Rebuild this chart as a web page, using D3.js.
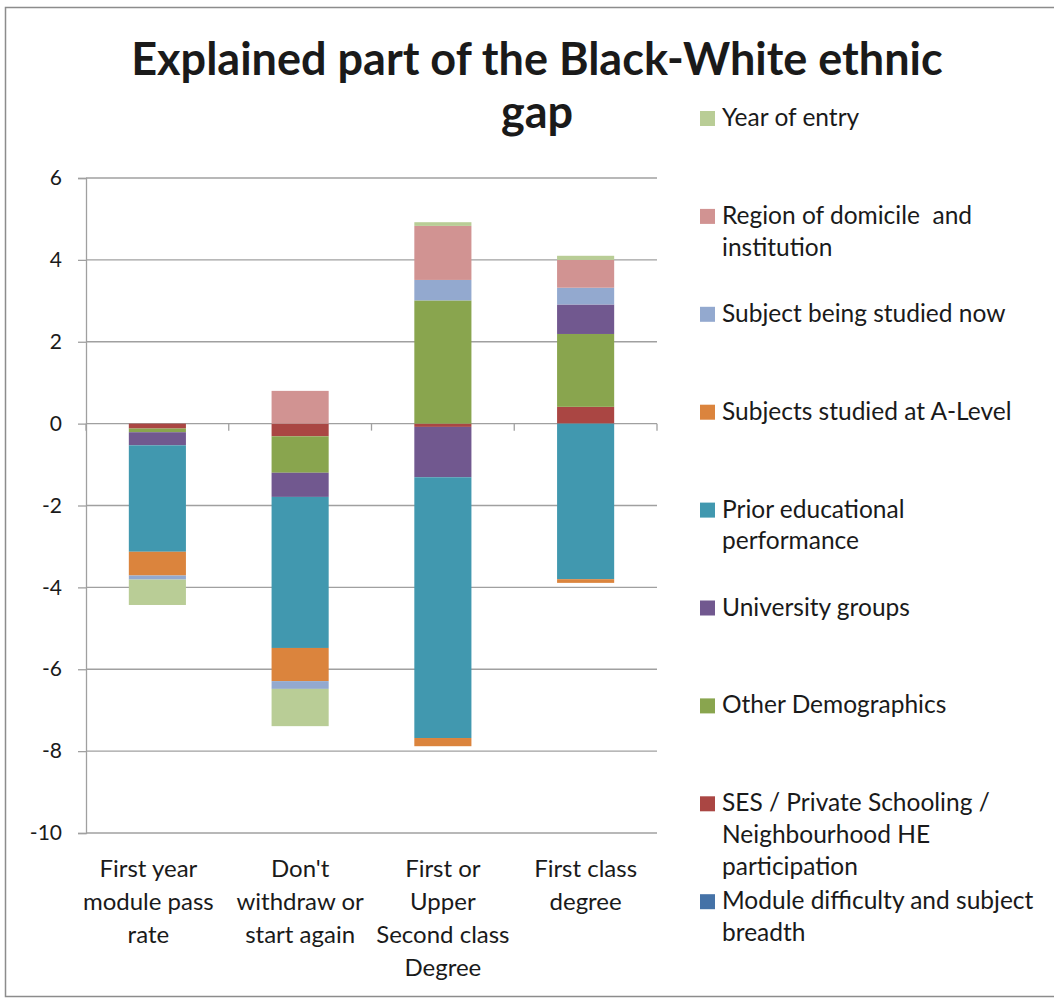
<!DOCTYPE html>
<html>
<head>
<meta charset="utf-8">
<script src="https://cdn.jsdelivr.net/npm/d3@7"></script>
<style>
  body { margin: 0; background: #fff; }
  text { font-family: Lato, "Open Sans", sans-serif; fill: #1a1a1a; white-space: pre; }
</style>
</head>
<body>
<script>
// categories (one entry per line of the wrapped label)
const categories = [
    ["First year", "module pass", "rate"],
    ["Don't", "withdraw or", "start again"],
    ["First or", "Upper", "Second class", "Degree"],
    ["First class", "degree"]
];

// series, in stacking order (first = nearest the zero line)
const seriesKeys = ["module", "ses", "other", "univ", "prior", "alevel", "subjNow", "region", "year"];
const seriesLabels = [
    ["Module difficulty and subject", "breadth"],
    ["SES / Private Schooling /", "Neighbourhood HE", "participation"],
    ["Other Demographics"],
    ["University groups"],
    ["Prior educational", "performance"],
    ["Subjects studied at A-Level"],
    ["Subject being studied now"],
    ["Region of domicile  and", "institution"],
    ["Year of entry"]
];
const seriesColors = ["#4572A7", "#AA4643", "#89A54E", "#71588F", "#4198AF", "#DB843D", "#93A9CF", "#D19392", "#B9CD96"];

const moduleVals  = [0, 0, 0, 0];
const sesVals     = [-0.12, -0.31, -0.08, 0.41];
const otherVals   = [-0.09, -0.89, 3.01, 1.78];
const univVals    = [-0.32, -0.59, -1.23, 0.72];
const priorVals   = [-2.60, -3.69, -6.37, -3.80];
const alevelVals  = [-0.58, -0.81, -0.20, -0.09];
const subjNowVals = [-0.10, -0.19, 0.50, 0.41];
const regionVals  = [0, 0.80, 1.32, 0.68];
const yearVals    = [-0.62, -0.91, 0.09, 0.10];

const yTicks = [6, 4, 2, 0, -2, -4, -6, -8, -10];
const titleLines = ["Explained part of the Black-White ethnic", "gap"];

class StackChart {
    constructor(width = 1054, height = 998){
        this.width = width;
        this.height = height;
        this.plot = {left: 86, right: 657, top: 178, bottom: 833};

        this.rows = categories.map((c, i) => ({
            cat: i,
            module: moduleVals[i], ses: sesVals[i], other: otherVals[i], univ: univVals[i],
            prior: priorVals[i], alevel: alevelVals[i], subjNow: subjNowVals[i],
            region: regionVals[i], year: yearVals[i]
        }));

        this.createSvg();
        this.buildScales();
        this.drawFrame();
        this.drawAxes();
        this.drawBars();
        this.drawTitle();
        this.drawLegend();
    }

    createSvg(){
        this.svg = d3.select("body")
            .append("svg")
            .attr("width", this.width)
            .attr("height", this.height);
    }

    buildScales(){
        this.x = d3.scaleBand()
            .domain(categories.map((c, i) => i))
            .range([this.plot.left, this.plot.right])
            .paddingInner(0.6)
            .paddingOuter(0.3);

        this.y = d3.scaleLinear()
            .domain([-10, 6])
            .range([this.plot.bottom, this.plot.top]);
    }

    drawFrame(){
        this.svg.append("rect")
            .attr("x", 5.5).attr("y", 7.5)
            .attr("width", this.width + 10).attr("height", 989)
            .attr("fill", "none")
            .attr("stroke", "#8c8c8c")
            .attr("stroke-width", 1.5);
    }

    drawAxes(){
        const p = this.plot;

        // horizontal gridlines
        this.svg.append("g")
            .selectAll("line")
            .data(yTicks)
            .enter().append("line")
            .attr("x1", p.left).attr("x2", p.right)
            .attr("y1", d => this.y(d)).attr("y2", d => this.y(d))
            .attr("stroke", "#a0a0a0")
            .attr("stroke-width", 1.3);

        let yAxis = this.svg.append("g")
            .attr("transform", `translate(${p.left},0)`)
            .call(d3.axisLeft(this.y).tickValues(yTicks).tickFormat(d => String(d)).tickSize(8).tickPadding(16));
        yAxis.select(".domain").attr("stroke", "#a0a0a0").attr("stroke-width", 1.3);
        yAxis.selectAll(".tick line").attr("stroke", "#a0a0a0").attr("stroke-width", 1.3);
        yAxis.selectAll(".tick text")
            .attr("font-size", 21)
            .attr("font-family", "Lato, sans-serif")
            .attr("fill", "#1a1a1a");

        // category tick marks on the zero line
        const step = this.x.step();
        const bounds = d3.range(categories.length + 1).map(k => p.left + k * step);
        this.svg.append("g")
            .selectAll("line")
            .data(bounds)
            .enter().append("line")
            .attr("x1", d => d).attr("x2", d => d)
            .attr("y1", this.y(0)).attr("y2", this.y(0) + 7)
            .attr("stroke", "#a0a0a0")
            .attr("stroke-width", 1.3);

        // category labels at the bottom
        let labels = this.svg.append("g")
            .selectAll("text")
            .data(categories)
            .enter().append("text")
            .attr("text-anchor", "middle")
            .attr("font-size", 24);
        labels.selectAll("tspan")
            .data((d, i) => d.map(line => ({line, i})))
            .enter().append("tspan")
            .attr("x", d => this.x(d.i) + this.x.bandwidth() / 2 - (d.i === 0 ? 9 : 0))
            .attr("y", (d, j) => 877 + j * 33)
            .text(d => d.line);
    }

    drawBars(){
        const stack = d3.stack()
            .keys(seriesKeys)
            .offset(d3.stackOffsetDiverging);
        const layers = stack(this.rows);

        this.svg.append("g")
            .selectAll("g")
            .data(layers)
            .enter().append("g")
            .attr("fill", (d, i) => seriesColors[i])
            .selectAll("rect")
            .data(d => d)
            .enter().append("rect")
            .attr("x", d => this.x(d.data.cat))
            .attr("width", this.x.bandwidth())
            .attr("y", d => this.y(Math.max(d[0], d[1])))
            .attr("height", d => Math.abs(this.y(d[0]) - this.y(d[1])));
    }

    drawTitle(){
        this.svg.append("g")
            .selectAll("text")
            .data(titleLines)
            .enter().append("text")
            .attr("x", 537)
            .attr("y", (d, i) => 75 + i * 53)
            .attr("text-anchor", "middle")
            .attr("font-size", 45)
            .attr("font-weight", "bold")
            .attr("fill", "#000")
            .text(d => d);
    }

    drawLegend(){
        const entries = seriesKeys.map((k, i) => ({label: seriesLabels[i], color: seriesColors[i]})).reverse();
        let items = this.svg.append("g")
            .selectAll("g")
            .data(entries)
            .enter().append("g")
            .attr("transform", (d, i) => `translate(700,${126 + i * 97.9})`);

        items.append("rect")
            .attr("x", 0).attr("y", -15)
            .attr("width", 15).attr("height", 15)
            .attr("fill", d => d.color);

        items.append("text")
            .attr("font-size", 24.5)
            .selectAll("tspan")
            .data(d => d.label)
            .enter().append("tspan")
            .attr("x", 22)
            .attr("y", (d, j) => j * 31.7)
            .text(d => d);
    }
}

new StackChart();
</script>
</body>
</html>
